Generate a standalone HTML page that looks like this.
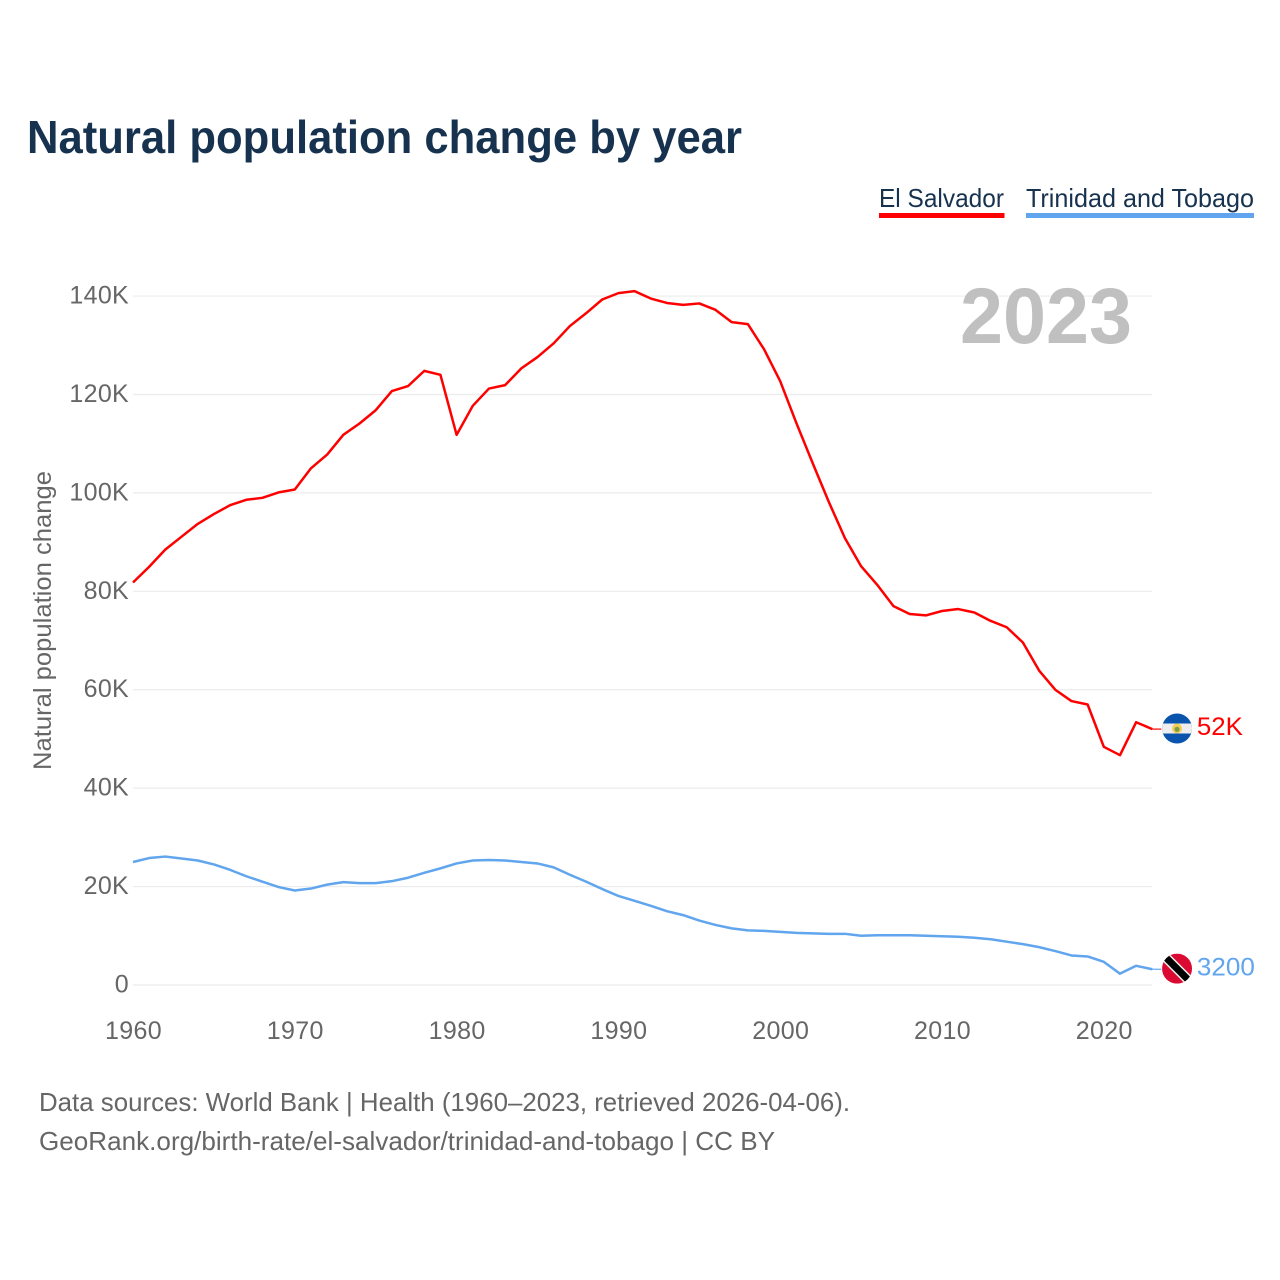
<!DOCTYPE html>
<html lang="en">
<head>
<meta charset="utf-8">
<title>Natural population change by year</title>
<style>
html,body{margin:0;padding:0;background:#fff;}
svg{display:block;font-family:"Liberation Sans",sans-serif;}
.tick{font-size:25px;fill:#666;}
.foot{font-size:26px;fill:#666;}
.legend{font-size:26px;fill:#17324f;}
</style>
</head>
<body>
<svg id="chart" xmlns="http://www.w3.org/2000/svg" width="1280" height="1280" viewBox="0 0 1280 1280">
  <rect x="0" y="0" width="1280" height="1280" fill="#fff"/>
  <text x="27" y="153" font-size="46" font-weight="700" fill="#17324f" textLength="715" lengthAdjust="spacingAndGlyphs">Natural population change by year</text>

  <g>
    <text class="legend" x="879" y="207" textLength="125" lengthAdjust="spacingAndGlyphs">El Salvador</text>
    <rect x="879" y="213" width="125.5" height="5" fill="#ff0000"/>
  </g>
  <g>
    <text class="legend" x="1026" y="207" textLength="228" lengthAdjust="spacingAndGlyphs">Trinidad and Tobago</text>
    <rect x="1026" y="213" width="228" height="5" fill="#60a5ee"/>
  </g>

  <g id="grid"></g>
  <g id="yticks"></g>
  <g id="xticks"></g>

  <text class="tick" transform="translate(51,770) rotate(-90)" x="0" y="0" textLength="299" lengthAdjust="spacingAndGlyphs">Natural population change</text>
  <text x="960" y="343" font-size="79" font-weight="700" fill="#c0c0c0" textLength="172" lengthAdjust="spacingAndGlyphs">2023</text>

  <g id="series"></g>

  <defs>
    <clipPath id="flag-clip"><circle cx="0" cy="0" r="15"/></clipPath>
  </defs>
  <g id="flag-sv">
    <g clip-path="url(#flag-clip)">
      <rect x="-15" y="-15" width="30" height="30" fill="#0b54ad"/>
      <rect x="-15" y="-5" width="30" height="10" fill="#eeeeee"/>
      <circle cx="0" cy="0" r="5" fill="#f2cf55"/>
      <circle cx="0" cy="0.8" r="2.6" fill="#7e9c45"/>
    </g>
  </g>
  <g id="flag-tt">
    <g clip-path="url(#flag-clip)">
      <rect x="-15" y="-15" width="30" height="30" fill="#da0a32"/>
      <line x1="-15" y1="-15" x2="15" y2="15" stroke="#eeeeee" stroke-width="10"/>
      <line x1="-15" y1="-15" x2="15" y2="15" stroke="#000" stroke-width="7"/>
    </g>
  </g>

  <text class="foot" x="39" y="1111" textLength="811" lengthAdjust="spacingAndGlyphs">Data sources: World Bank | Health (1960–2023, retrieved 2026-04-06).</text>
  <text class="foot" x="39" y="1150" textLength="736" lengthAdjust="spacingAndGlyphs">GeoRank.org/birth-rate/el-salvador/trinidad-and-tobago | CC BY</text>
</svg>
<script>
const startYear = 1960;
const xTickYears = [1960, 1970, 1980, 1990, 2000, 2010, 2020];
const yTickValues = [0, 20, 40, 60, 80, 100, 120, 140];
const yTickLabels = ['0', '20K', '40K', '60K', '80K', '100K', '120K', '140K'];
const elSalvador = [
  81.8, 85.0, 88.5, 91.1, 93.7, 95.7, 97.5, 98.6, 99.0, 100.1,
  100.7, 105.0, 107.8, 111.8, 114.1, 116.8, 120.7, 121.7, 124.8, 124.0,
  111.8, 117.7, 121.2, 121.9, 125.3, 127.6, 130.4, 133.9, 136.5, 139.3,
  140.6, 141.0, 139.5, 138.6, 138.2, 138.5, 137.2, 134.7, 134.3, 129.2,
  122.7, 114.2, 106.1, 98.2, 90.8, 85.1, 81.3, 77.0, 75.4, 75.1,
  76.0, 76.4, 75.7, 74.0, 72.7, 69.6, 63.9, 60.0, 57.7, 57.0,
  48.4, 46.7, 53.4, 52.0
];
const trinidadTobago = [
  25.0, 25.8, 26.1, 25.7, 25.3, 24.5, 23.4, 22.1, 21.0, 19.9,
  19.2, 19.6, 20.4, 20.9, 20.7, 20.7, 21.1, 21.8, 22.8, 23.7,
  24.7, 25.3, 25.4, 25.3, 25.0, 24.7, 23.9, 22.4, 21.0, 19.5,
  18.1, 17.1, 16.1, 15.0, 14.2, 13.1, 12.2, 11.5, 11.1, 11.0,
  10.8, 10.6, 10.5, 10.4, 10.4, 10.0, 10.1, 10.1, 10.1, 10.0,
  9.9, 9.8, 9.6, 9.3, 8.8, 8.3, 7.7, 6.9, 6.0, 5.8,
  4.7, 2.3, 3.9, 3.2
];
const endLabels = ['52K', '3200'];

const NS = 'http://www.w3.org/2000/svg';
function xScale(year) { return 133 + (year - startYear) * 16.18; }
function yScale(value) { return 985 - value * 4.921; }
function make(tag, attrs, parent, text) {
  const el = document.createElementNS(NS, tag);
  for (const k in attrs) el.setAttribute(k, attrs[k]);
  if (text !== undefined) el.textContent = text;
  parent.appendChild(el);
  return el;
}
function linePath(values) {
  return values.map(function (v, i) {
    return (i ? 'L' : 'M') + xScale(startYear + i).toFixed(2) + ' ' + yScale(v).toFixed(2);
  }).join(' ');
}

const grid = document.getElementById('grid');
const yticks = document.getElementById('yticks');
const xticks = document.getElementById('xticks');
const series = document.getElementById('series');

yTickValues.forEach(function (v, i) {
  const g = make('line', { x1: 133, x2: 1152, y1: yScale(v), y2: yScale(v), stroke: '#ececec', 'stroke-width': 1.2 }, grid);
  
  
  const t = make('text', { class: 'tick', x: 129, y: yScale(v) + 7.5, 'text-anchor': 'end', 'letter-spacing': '0.3' }, yticks, yTickLabels[i]);
  
  
});

xTickYears.forEach(function (y) {
  const t = make('text', { class: 'tick', x: xScale(y) + 0.5, y: 1039, 'text-anchor': 'middle', 'letter-spacing': '0.35' }, xticks, String(y));
  
  
});

function drawSeries(values, color, name, flagId, label, labelWidth) {
  const lastX = xScale(startYear + values.length - 1);
  const lastY = yScale(values[values.length - 1]);
  const path = make('path', { d: linePath(values), fill: 'none', stroke: color, 'stroke-width': 2.5, 'stroke-linejoin': 'round' }, series);
  
  
  const conn = make('line', { x1: lastX, y1: lastY, x2: lastX + 9, y2: lastY, stroke: color, 'stroke-width': 1.2 }, series);
  
  
  document.getElementById(flagId).setAttribute('transform', 'translate(' + (lastX + 24.7) + ',' + (lastY - 0.6) + ')');
  const t = make('text', { x: lastX + 44.5, y: lastY + 6, 'font-size': 25, fill: color, textLength: labelWidth, lengthAdjust: 'spacingAndGlyphs' }, series, label);
  
  
}

drawSeries(elSalvador, '#ff0000', 'el-salvador', 'flag-sv', endLabels[0], 46);
drawSeries(trinidadTobago, '#60a5ee', 'trinidad-and-tobago', 'flag-tt', endLabels[1], 58);
</script>
</body>
</html>
